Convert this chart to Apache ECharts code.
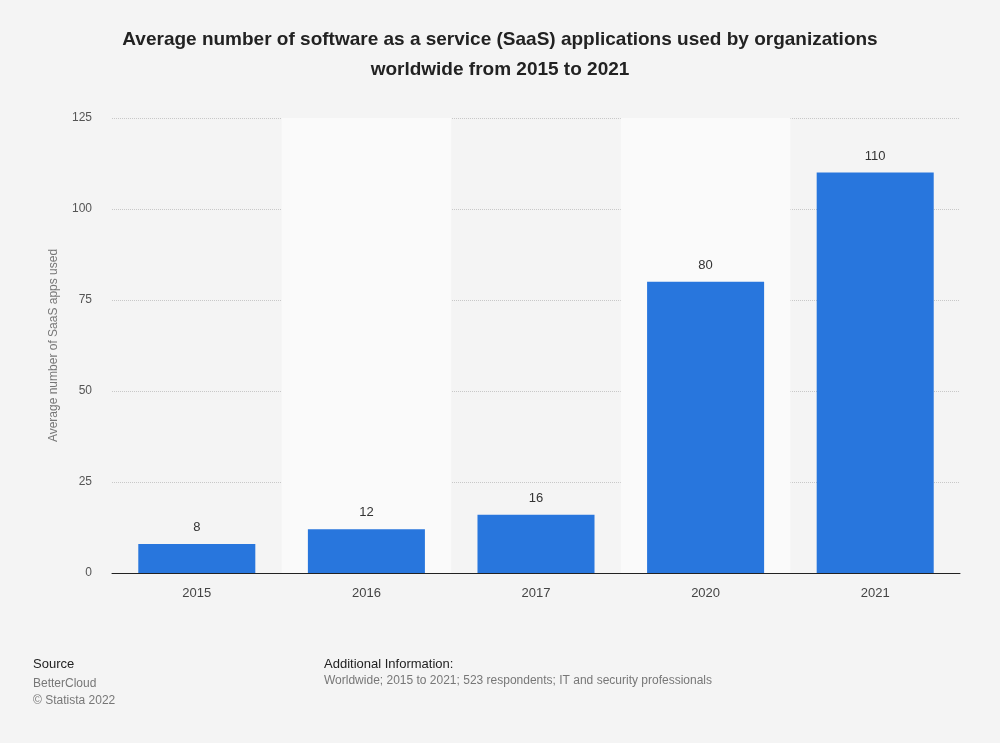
<!DOCTYPE html>
<html><head><meta charset="utf-8">
<script src="https://cdn.jsdelivr.net/npm/echarts@6/dist/echarts.min.js"></script>
<style>html,body{margin:0;background:#f4f4f4}#c{width:1000px;height:743px}</style>
</head><body><div id="c"></div>
<script>
const categories = ['2015','2016','2017','2020','2021'];
const values = [8,12,16,80,110];
const yTicks = [0,25,50,75,100,125];
const chart = echarts.init(document.getElementById('c'));
chart.setOption({
  backgroundColor:'#f4f4f4',
  title:{text:'Average number of software as a service (SaaS) applications used by organizations\nworldwide from 2015 to 2021',left:'center',top:20,
    textStyle:{fontFamily:'Liberation Sans',fontSize:19,fontWeight:'bold',color:'#222',lineHeight:30}},
  grid:{left:112,right:40,top:118,bottom:170},
  xAxis:{type:'category',data:categories,
    axisLine:{lineStyle:{color:'#222'}},axisTick:{show:false},
    axisLabel:{color:'#444',fontSize:13,margin:14,fontFamily:'Liberation Sans'},
    splitArea:{show:true,areaStyle:{color:['rgba(0,0,0,0)','#fafafa']}}},
  yAxis:{type:'value',min:0,max:125,interval:25,
    name:'Average number of SaaS apps used',nameLocation:'middle',nameGap:52,
    nameTextStyle:{color:'#777',fontSize:12,fontFamily:'Liberation Sans'},
    axisLabel:{color:'#555',fontSize:12,margin:20,fontFamily:'Liberation Sans'},
    splitLine:{lineStyle:{color:'#c8c8c8',type:'dotted'}}},
  series:[{type:'bar',data:values,barWidth:'69%',itemStyle:{color:'#2876dd'},
    label:{show:true,position:'top',distance:10,color:'#333',fontSize:13,fontFamily:'Liberation Sans'}}],
  graphic:[
    {type:'text',left:33,top:658,style:{text:'Source',fill:'#222',font:'13px Liberation Sans'}},
    {type:'text',left:33,top:675,style:{text:'BetterCloud\n© Statista 2022',fill:'#777',font:'12px Liberation Sans',lineHeight:17}},
    {type:'text',left:324,top:658,style:{text:'Additional Information:',fill:'#222',font:'13px Liberation Sans'}},
    {type:'text',left:324,top:675,style:{text:'Worldwide; 2015 to 2021; 523 respondents; IT and security professionals',fill:'#777',font:'12px Liberation Sans'}}
  ]
});
</script></body></html>
